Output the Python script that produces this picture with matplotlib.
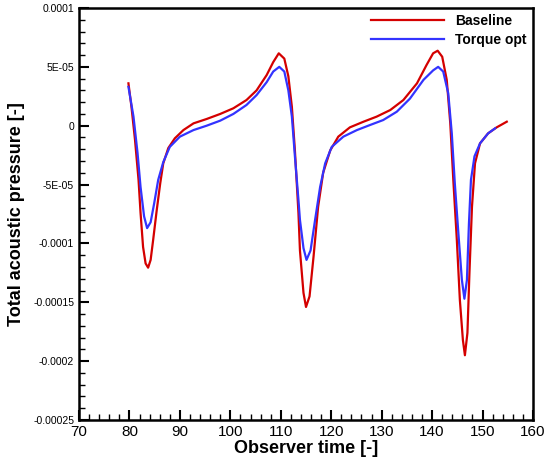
import matplotlib
matplotlib.use('Agg')
from matplotlib import pyplot as plt
from matplotlib.ticker import MultipleLocator

# observer time and pressure (values in 1e-5)
t_base = [79.8, 80.4, 81.1, 81.8, 82.2, 82.7, 83.2, 83.7, 84.2, 84.7, 85.4, 86.1,
          86.7, 87.7, 89.0, 90.7, 92.7, 95.3, 98.0, 100.6, 103.2, 105.2, 107.2,
          108.5, 109.6, 110.7, 111.5, 112.2, 112.8, 113.5, 113.8, 114.5, 115.0,
          115.7, 116.5, 117.4, 118.4, 119.8, 121.4, 123.7, 126.4, 129.0, 131.7,
          134.3, 137.0, 138.9, 140.2, 141.1, 142.0, 142.9, 143.6, 144.2, 144.9,
          145.5, 146.1, 146.5, 147.0, 147.4, 147.9, 148.5, 149.5, 151.1, 152.8,
          154.8]
p_base = [3.6, 1.6, -1.2, -4.6, -7.4, -10.3, -11.7, -12.06, -11.4, -9.7, -7.2, -4.9,
          -3.2, -1.9, -1.07, -0.37, 0.2, 0.57, 1.0, 1.48, 2.18, 3.0, 4.3,
          5.4, 6.15, 5.7, 4.2, 1.6, -2.1, -7.4, -10.6, -14.2, -15.4,
          -14.5, -11.1, -6.9, -4.0, -2.1, -0.93, -0.14, 0.34, 0.77, 1.33,
          2.18, 3.6, 5.16, 6.15, 6.37, 5.86, 3.9, 0.2, -4.6, -9.7,
          -14.8, -18.2, -19.5, -17.6, -12.5, -6.9, -3.2, -1.5, -0.65, -0.14,
          0.34]

t_opt = [79.8, 80.8, 81.6, 82.2, 82.9, 83.5, 84.2, 84.9, 85.7, 86.7, 88.0, 90.0,
         92.7, 95.3, 98.0, 100.6, 103.2, 105.2, 107.2, 108.5, 109.7, 110.7, 111.5,
         112.2, 112.8, 113.5, 113.8, 114.5, 115.1, 115.9, 116.8, 117.8, 118.8,
         120.1, 122.4, 125.1, 127.7, 130.3, 133.0, 135.6, 138.3, 140.2, 141.2,
         142.2, 143.2, 143.9, 144.5, 145.2, 145.9, 146.4, 146.9, 147.3, 147.7,
         148.4, 149.5, 151.1, 152.5]
p_opt = [3.3, 0.77, -2.3, -5.2, -7.7, -8.7, -8.2, -6.6, -4.6, -3.1, -1.8, -0.93,
         -0.37, 0.0, 0.43, 1.0, 1.76, 2.6, 3.7, 4.6, 5.0, 4.6, 3.0,
         0.77, -2.6, -6.3, -8.0, -10.4, -11.4, -10.6, -8.0, -5.2, -3.2,
         -1.8, -0.93, -0.37, 0.06, 0.48, 1.19, 2.3, 3.9, 4.7, 5.0,
         4.6, 2.75, -0.65, -4.9, -9.1, -13.1, -14.7, -13.1, -8.3, -4.6,
         -2.6, -1.5, -0.65, -0.22]

yticks = [0.0001, 5e-05, 0, -5e-05, -0.0001, -0.00015, -0.0002, -0.00025]
ytick_labels = ['0.0001', '5E-05', '0', '-5E-05', '-0.0001', '-0.00015', '-0.0002', '-0.00025']
xticks = [70, 80, 90, 100, 110, 120, 130, 140, 150, 160]

plt.rcParams['font.family'] = ['Liberation Sans', 'DejaVu Sans']

fig = plt.figure(figsize=(5.46, 4.70), dpi=100)
ax = fig.add_axes([0.1447, 0.1064, 0.8315, 0.8766])

ax.plot(t_base, [p * 1e-5 for p in p_base], c='#d40000', lw=1.6, label='Baseline')
ax.plot(t_opt, [p * 1e-5 for p in p_opt], c='#3333ff', lw=1.6, label='Torque opt')

ax.set_xlim(70, 160)
ax.set_ylim(-0.00025, 0.0001)
ax.set_xticks(xticks)
ax.set_yticks(yticks)
ax.set_yticklabels(ytick_labels, fontsize=7.5)
ax.tick_params(axis='x', labelsize=11)
ax.xaxis.set_minor_locator(MultipleLocator(2))
ax.yaxis.set_minor_locator(MultipleLocator(1e-5))
ax.tick_params(which='major', direction='in', length=7, width=1.5, top=False, right=False)
ax.tick_params(which='minor', direction='in', length=4, width=1, top=False, right=False)
for s in ax.spines.values():
    s.set_linewidth(1.8)

ax.set_xlabel('Observer time [-]', fontsize=13, fontweight='bold', labelpad=1)
ax.set_ylabel('Total acoustic pressure [-]', fontsize=13, fontweight='bold', labelpad=6)

ax.legend(loc='upper right', frameon=False, prop={'weight': 'bold', 'size': 10},
          handlelength=5.3, handletextpad=0.8, labelspacing=0.35,
          borderaxespad=0.15, borderpad=0.3)

plt.savefig('out.png', dpi=100)
